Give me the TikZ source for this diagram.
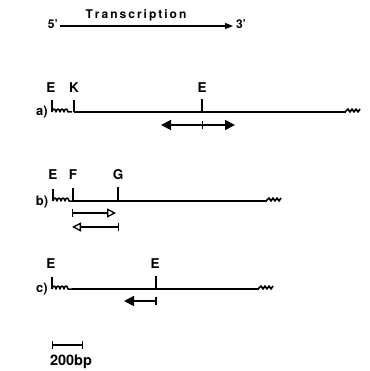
\documentclass[tikz,border=0pt]{standalone}
\usepackage{fontspec}
\setmainfont{TeX Gyre Heros}
\usetikzlibrary{arrows.meta}
\begin{document}
\begin{tikzpicture}[x=1pt,y=-1pt,
  lab/.style={font=\bfseries\fontsize{13.5}{13.5}\selectfont, inner sep=0pt},
  rowlab/.style={font=\bfseries\fontsize{13}{13}\selectfont, inner sep=0pt},
  dna/.style={line width=1.8pt},
  tickln/.style={line width=1.7pt},
  maparrow/.style={line width=1.6pt},
  pics/startwig/.style={code={
    \draw[line width=1.5pt, line join=round]
      (0,0) .. controls (1,-4) and (3,-4) .. (4,0)
            .. controls (5,-4) and (7,-4) .. (8,0)
            .. controls (9,-4) and (11,-4) .. (12,0)
            .. controls (13,-4) and (15,-4) .. (16,0) -- (20,0);}},
  pics/endwig/.style={code={
    \draw[line width=1.6pt, line join=round]
      (-1,0) -- (2,-3) -- (4,0) -- (6,-3) -- (8,0) -- (10,-3) -- (12,0) -- (14,-3);}}
]
\useasboundingbox (0,0) rectangle (369,371);

% Transcription arrow
\node[font=\bfseries\fontsize{12}{12}\selectfont, inner sep=0pt] (p5) at (53,24) {5'};
\node[font=\bfseries\fontsize{12}{12}\selectfont, inner sep=0pt] (p3) at (241,24) {3'};
\node[font=\bfseries\fontsize{12}{12}\selectfont, inner sep=0pt] (tx) at (136,15) {T\,r\,a\,n\,s\,c\,r\,i\,p\,t\,i\,o\,n};
\coordinate (ts) at (60,26);
\coordinate (te) at (233,26);
\draw[line width=1.3pt, -{Triangle[length=8pt,width=6pt]}] (ts) -- (te);

% ---------- a) ----------
\node[rowlab] (la) at (42,112) {a)};
\coordinate (a0) at (52,112);
\coordinate (aK) at (74,112);
\coordinate (aE) at (202,112);
\coordinate (aend) at (346,112);
\node[lab] (aEl) at (51,88) {E};
\node[lab] (aKl) at (74,88) {K};
\node[lab] (aE2l) at (202,88) {E};
\draw[tickln] (52,100) -- (a0);
\pic at (a0) {startwig};
\draw[tickln] (74,100) -- (aK);
\draw[tickln] (202,99) -- (aE);
\draw[dna] (aK) -- (aend);
\pic at (aend) {endwig};
\coordinate (aal) at (161,125);
\coordinate (aar) at (235,125);
\draw[maparrow, {Triangle[length=10pt,width=10pt]}-{Triangle[length=10pt,width=10pt]}] (aal) -- (aar);
\draw[line width=1pt] (202,121) -- (202,129);

% ---------- b) ----------
\node[rowlab] (lb) at (42,202) {b)};
\coordinate (b0) at (53,201);
\coordinate (bF) at (73,201);
\coordinate (bG) at (118,201);
\coordinate (bend) at (267,201);
\node[lab] (bEl) at (53,175) {E};
\node[lab] (bFl) at (73,175) {F};
\node[lab] (bGl) at (118,175) {G};
\draw[tickln] (53,189) -- (b0);
\pic at (b0) {startwig};
\draw[tickln] (73,188) -- (bF);
\draw[tickln] (118,187) -- (bG);
\draw[dna] (bF) -- (bend);
\pic at (bend) {endwig};
\coordinate (br1) at (72,213);
\coordinate (br2) at (116,213);
\draw[line width=1.3pt, {Bar[width=8pt]}-{Triangle[open,length=9pt,width=9pt]}] (br1) -- (br2);
\coordinate (bl1) at (119,227);
\coordinate (bl2) at (72,227);
\draw[line width=1.3pt, {Bar[width=8pt]}-{Triangle[open,length=9pt,width=9pt]}] (bl1) -- (bl2);

% ---------- c) ----------
\node[rowlab] (lc) at (42,289) {c)};
\coordinate (c0) at (52,289);
\coordinate (cs) at (72,289);
\coordinate (cE) at (156,289);
\coordinate (cend) at (259,289);
\node[lab] (cEl) at (51,264) {E};
\node[lab] (cE2l) at (155,264) {E};
\draw[tickln] (52,277) -- (c0);
\pic at (c0) {startwig};
\draw[tickln] (156,276) -- (cE);
\draw[dna] (cs) -- (cend);
\pic at (cend) {endwig};
\coordinate (cr) at (157,301);
\coordinate (cl) at (124,301);
\draw[maparrow, {Bar[width=8pt]}-{Triangle[length=10pt,width=10pt]}] (cr) -- (cl);

% scale bar
\coordinate (s1) at (52,345);
\coordinate (s2) at (83,345);
\draw[line width=1.3pt, {Bar[width=8pt]}-{Bar[width=8pt]}] (s1) -- (s2);
\node[font=\bfseries\fontsize{14.5}{14.5}\selectfont, inner sep=0pt] (sl) at (71,362) {200bp};
\end{tikzpicture}
\end{document}
